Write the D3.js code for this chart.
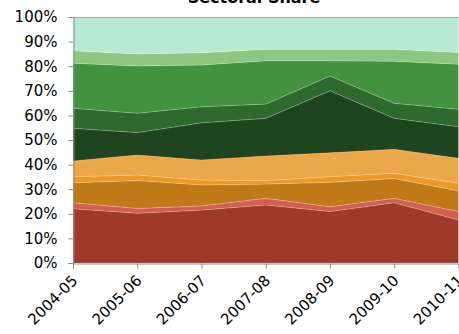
<!DOCTYPE html>
<html>
<head>
<meta charset="utf-8">
<script src="https://cdn.jsdelivr.net/npm/d3@7"></script>
<style>
  html, body { margin: 0; padding: 0; background: #fff; }
  svg { display: block; }
</style>
</head>
<body>
<svg id="chart" width="459" height="334"></svg>
<script>
const years = ["2004-05", "2005-06", "2006-07", "2007-08", "2008-09", "2009-10", "2010-11"];
const yTicks = [0, 10, 20, 30, 40, 50, 60, 70, 80, 90, 100];

// series shares in %, bottom to top
const s1 = [22.1, 20.2, 21.5, 23.6, 20.9, 24.5, 17.5];
const s2 = [2.4, 2.0, 1.7, 2.7, 2.0, 1.8, 3.4];
const s3 = [8.1, 11.3, 8.5, 5.8, 9.9, 8.0, 8.4];
const s4 = [2.5, 2.3, 2.0, 1.4, 2.3, 2.2, 3.1];
const s5 = [6.4, 8.1, 8.2, 10.0, 9.7, 9.7, 10.2];
const s6 = [13.3, 9.1, 15.1, 15.3, 25.2, 12.6, 12.8];
const s7 = [8.1, 7.9, 6.5, 5.8, 6.0, 6.1, 7.1];
const s8 = [18.3, 19.2, 17.0, 17.6, 6.2, 17.1, 18.3];
const s9 = [5.1, 4.9, 5.0, 4.7, 4.7, 4.9, 4.8];
const s10 = [13.7, 15.0, 14.5, 13.1, 13.1, 13.1, 14.4];

const seriesNames = ["s1","s2","s3","s4","s5","s6","s7","s8","s9","s10"];
const seriesValues = [s1, s2, s3, s4, s5, s6, s7, s8, s9, s10];
const colors = ["#a03a28", "#d2604f", "#bf7a17", "#ec9a25", "#eaa84a",
                "#1f4520", "#2e6a2e", "#42923f", "#8ec680", "#b8e8d4"];

const table = years.map((yr, i) => {
  const row = { year: yr };
  const total = seriesValues.reduce((a, s) => a + s[i], 0);
  seriesNames.forEach((n, k) => row[n] = seriesValues[k][i] / total);
  return row;
});

const svg = d3.select("#chart");
const mLeft = 73, mRight = 458.5, mTop = 17, mBottom = 263;

const x = d3.scalePoint().domain(years).range([mLeft, mRight]);
const y = d3.scaleLinear().domain([0, 1]).range([mBottom, mTop]);

const layers = d3.stack().keys(seriesNames)(table);

const area = d3.area()
  .x(d => x(d.data.year))
  .y0(d => y(d[0]))
  .y1(d => y(d[1]));

svg.append("g").selectAll("path")
  .data(layers)
  .join("path")
  .attr("d", area)
  .attr("fill", (d, i) => colors[i])
  .attr("stroke", "rgba(255,255,255,0.22)")
  .attr("stroke-width", 0.8);

// top border
svg.append("line")
  .attr("x1", mLeft).attr("x2", 459)
  .attr("y1", mTop + 0.5).attr("y2", mTop + 0.5)
  .attr("stroke", "#a6a6a6").attr("stroke-width", 1);

// y axis
const yAxis = d3.axisLeft(y)
  .tickValues(yTicks.map(v => v / 100))
  .tickFormat((d, i) => yTicks[i] + "%")
  .tickSize(5)
  .tickPadding(11);

const gy = svg.append("g").attr("transform", `translate(${mLeft + 0.5},0)`).call(yAxis);
gy.select(".domain").attr("stroke", "#8c8c8c");
gy.selectAll(".tick line").attr("stroke", "#8c8c8c");
gy.selectAll("text")
  .attr("font-family", "DejaVu Sans, Verdana, sans-serif")
  .attr("font-size", "15px")
  .attr("fill", "#000");

// x axis
const xAxis = d3.axisBottom(x).tickSize(5).tickFormat(d => d);
const gx = svg.append("g").attr("transform", `translate(0,${mBottom + 0.5})`).call(xAxis);
gx.select(".domain").attr("stroke", "#8c8c8c");
gx.selectAll(".tick line").attr("stroke", "#8c8c8c");
gx.selectAll("text")
  .attr("font-family", "DejaVu Sans, Verdana, sans-serif")
  .attr("font-size", "15px")
  .attr("fill", "#000")
  .attr("text-anchor", "end")
  .attr("dy", null)
  .attr("y", null)
  .attr("transform", "translate(5,18) rotate(-45)");

// title
svg.append("text")
  .attr("x", 254).attr("y", 3)
  .attr("text-anchor", "middle")
  .attr("font-family", "DejaVu Sans, Verdana, sans-serif")
  .attr("font-weight", "bold")
  .attr("font-size", "16px")
  .text("Sectoral Share");
</script>
</body>
</html>
